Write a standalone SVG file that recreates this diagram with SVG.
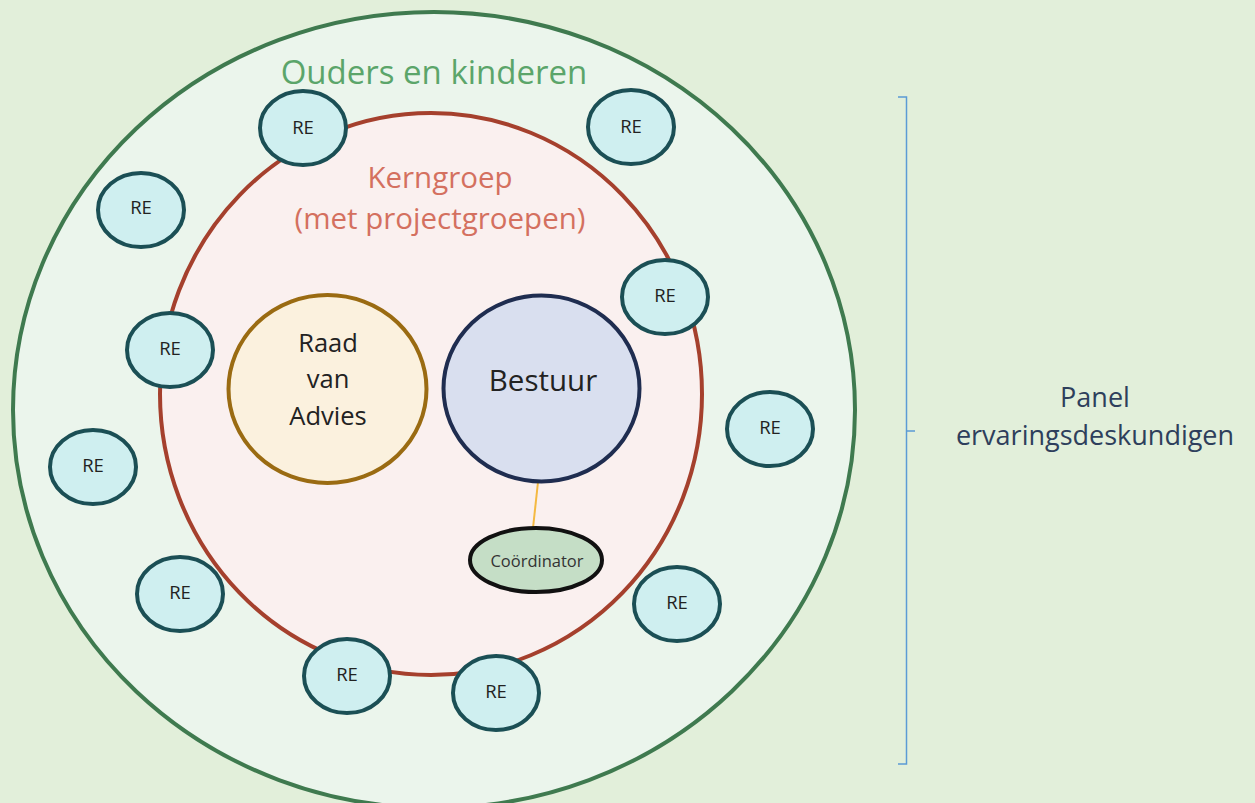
<svg xmlns="http://www.w3.org/2000/svg" width="1255" height="803" viewBox="0 0 1255 803">
<style>
text{font-family:"Open Sans","Noto Sans","Liberation Sans",sans-serif;text-anchor:middle}
.re{fill:#CFEFF0;stroke:#1B4F55;stroke-width:4}
.ret{font-size:18.5px;fill:#222}
</style>
<rect width="1255" height="803" fill="#E2EFDA"/>
<g id="ouders">
<ellipse cx="434" cy="410" rx="421" ry="398" fill="#EBF5EC" stroke="#3F7A4F" stroke-width="4"/>
<text x="434" y="84" font-size="33" fill="#5BA56A">Ouders en kinderen</text>
</g>
<g id="kerngroep">
<ellipse cx="431" cy="394" rx="271" ry="281" fill="#FAF0EF" stroke="#A5402D" stroke-width="4"/>
<text x="440" y="188" font-size="29.5" fill="#D4705F">Kerngroep</text>
<text x="440" y="229" font-size="29.5" fill="#D4705F">(met projectgroepen)</text>
</g>
<g id="connectors">
<line x1="538" y1="482" x2="533" y2="528" stroke="#F4B942" stroke-width="2"/>
</g>
<g id="raad">
<ellipse cx="327.5" cy="389" rx="99" ry="94" fill="#FBF1DE" stroke="#9A6B12" stroke-width="4"/>
<text x="328" y="352" font-size="25.5" fill="#222">Raad</text>
<text x="328" y="388" font-size="25.5" fill="#222">van</text>
<text x="328" y="425" font-size="25.5" fill="#222">Advies</text>
</g>
<g id="bestuur">
<ellipse cx="541.5" cy="388.5" rx="98" ry="93" fill="#D9DFEF" stroke="#1F2D50" stroke-width="4"/>
<text x="543" y="391" font-size="29.5" fill="#222">Bestuur</text>
</g>
<g id="coordinator">
<ellipse cx="536" cy="560" rx="66" ry="32" fill="#C5DEC6" stroke="#111" stroke-width="4"/>
<text x="537" y="567" font-size="16.5" fill="#333">Coördinator</text>
</g>
<g id="re1"><ellipse class="re" cx="303" cy="128" rx="43" ry="37"/><text class="ret" x="303" y="134">RE</text></g>
<g id="re2"><ellipse class="re" cx="631" cy="127" rx="43" ry="37"/><text class="ret" x="631" y="133">RE</text></g>
<g id="re3"><ellipse class="re" cx="141" cy="210" rx="43" ry="37"/><text class="ret" x="141" y="214">RE</text></g>
<g id="re4"><ellipse class="re" cx="665" cy="297" rx="43" ry="37"/><text class="ret" x="665" y="302">RE</text></g>
<g id="re5"><ellipse class="re" cx="170" cy="350" rx="43" ry="37"/><text class="ret" x="170" y="355">RE</text></g>
<g id="re6"><ellipse class="re" cx="770" cy="429" rx="43" ry="37"/><text class="ret" x="770" y="434">RE</text></g>
<g id="re7"><ellipse class="re" cx="93" cy="467" rx="43" ry="37"/><text class="ret" x="93" y="472">RE</text></g>
<g id="re8"><ellipse class="re" cx="180" cy="594" rx="43" ry="37"/><text class="ret" x="180" y="599">RE</text></g>
<g id="re9"><ellipse class="re" cx="677" cy="604" rx="43" ry="37"/><text class="ret" x="677" y="609">RE</text></g>
<g id="re10"><ellipse class="re" cx="347" cy="676" rx="43" ry="37"/><text class="ret" x="347" y="681">RE</text></g>
<g id="re11"><ellipse class="re" cx="496" cy="693" rx="43" ry="37"/><text class="ret" x="496" y="698">RE</text></g>
<g id="panel">
<path d="M898,97 H906.5 V764 H898 M906.5,431 H915" fill="none" stroke="#5B9BD5" stroke-width="1.5"/>
<text x="1095" y="407" font-size="27" fill="#2E3F5C">Panel</text>
<text x="1095" y="445" font-size="27" fill="#2E3F5C">ervaringsdeskundigen</text>
</g>
</svg>
